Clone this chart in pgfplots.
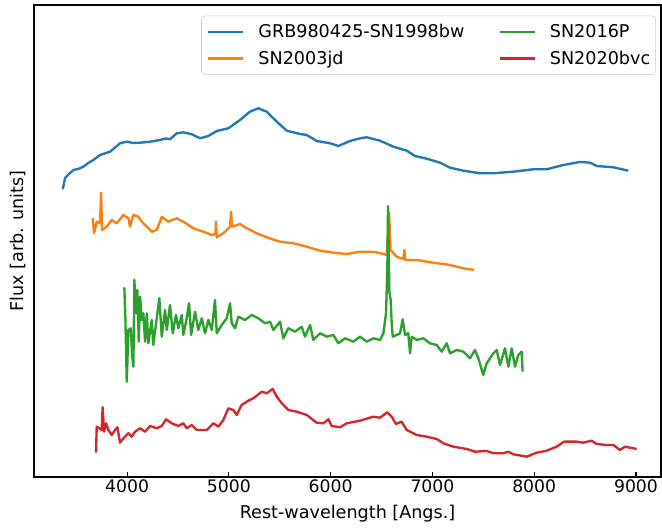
\documentclass[border=0pt]{standalone}
\usepackage{pgfplots}
\pgfplotsset{compat=1.18}
\usepackage{fontspec}
\setmainfont{DejaVu Sans}
\definecolor{c0}{HTML}{1F77B4}
\definecolor{c1}{HTML}{FF7F0E}
\definecolor{c2}{HTML}{2CA02C}
\definecolor{c3}{HTML}{D62728}
\begin{document}
\begin{tikzpicture}
\begin{axis}[
  scale only axis,
  width=451.4pt, height=339.8pt,
  xmin=3086, xmax=9246, ymin=47, ymax=519,
  axis line style={line width=0.8pt},
  ytick=\empty,
  xtick={4000,5000,6000,7000,8000,9000},
  xtick pos=lower,
  tick align=inside,
  major tick length=3.5pt,
  every tick/.style={black, line width=0.8pt},
  /pgf/number format/1000 sep={},
  /pgf/number format/assume math mode=true,
  ticklabel style={font=\fontsize{12.4}{14}\selectfont, inner sep=2pt},
  xlabel={Rest-wavelength [Angs.]},
  ylabel={Flux [arb. units]},
  label style={font=\fontsize{12.66}{15}\selectfont},
  xlabel style={at={(axis description cs:0.5,-0.0783)}, anchor=center},
  ylabel style={at={(axis description cs:-0.0255,0.5)}, anchor=center},
  legend columns=2,
  transpose legend,
  legend cell align=left,
  legend image code/.code={\draw[#1] (0pt,0pt) -- (25.3pt,0pt);},
  legend style={at={(axis description cs:1,1)}, anchor=north east, xshift=-3.6pt, yshift=-7.7pt,
    draw=black!20, rounded corners=2.5pt, fill=white, fill opacity=0.8, text opacity=1,
    font=\fontsize{12.66}{15.2}\selectfont, inner xsep=4pt, inner ysep=3.5pt,
    nodes={inner xsep=0pt, inner ysep=2.5pt},
    /tikz/every odd column/.append style={column sep=10pt},
    /tikz/every even column/.append style={column sep=24.5pt},
    row sep=3pt},
  every axis plot/.append style={line width=1.7pt, line join=round},
]
\addplot[c0] table {
3368 334.7
3391 346
3410 348
3440 351
3473 354
3520 355
3571 357.3
3620 361
3669 364
3735 369
3833 372.3
3931 380.7
3997 382.3
4060 381
4128 381.3
4226 382.3
4324 384
4380 385.5
4422 384.7
4488 390.7
4553 391.7
4636 389.7
4717 385.7
4799 388
4881 393
4995 395.7
5110 404
5208 412.3
5290 415.7
5372 412.3
5471 402.3
5569 393.3
5699 390
5765 389
5863 383
5994 380.7
6076 378
6191 383
6289 385.7
6355 386.7
6485 383.3
6616 377.3
6748 373.3
6829 368
6944 365.3
7075 361.3
7173 356.3
7304 353.3
7468 350.7
7598 350.7
7795 352.3
7991 354.7
8123 354.7
8286 359
8450 362
8548 361.3
8614 358
8777 356.7
8924 353.3
};
\addlegendentry{GRB980425-SN1998bw}
\addplot[c1] table {
3663 305.7
3676 290.7
3702 302.3
3735 300.7
3745 331.3
3754 294
3801 297.3
3850 304
3899 300.7
3964 309
4013 305.7
4029 297.3
4062 309
4111 307.3
4144 302.3
4194 297.3
4243 292.3
4292 294
4341 307.3
4406 302.3
4488 305.7
4553 302.3
4651 295.7
4750 292.3
4832 289
4868 290
4874 302.3
4881 286.7
4946 290.7
5012 297.3
5022 312.3
5031 297.3
5110 300
5176 295.7
5274 290.7
5372 286.7
5503 282.3
5634 280.7
5765 277.3
5896 273.3
6027 271.3
6158 270
6289 272.3
6420 272.3
6518 270
6550 269
6575 310.7
6589 274
6648 267.3
6715 265
6724 274
6735 264
6846 264
7009 261.3
7173 259
7304 255.7
7409 254
};
\addlegendentry{SN2003jd}
\addplot[c2] table {
3973 236.7
3983 207.3
3997 142.3
4013 194
4036 195.7
4049 170.7
4062 157.3
4072 244
4088 210.7
4101 234
4115 182.3
4128 227.3
4144 204
4160 210.7
4177 182.3
4194 210.7
4209 180.7
4243 204
4258 179
4285 200.7
4317 225.7
4341 187.3
4373 214
4390 194
4422 219
4449 190.7
4481 209
4504 195.7
4537 209
4553 189
4586 205.7
4609 220.7
4629 189
4668 212.3
4700 194
4734 205.7
4766 190.7
4799 204
4832 194
4864 224
4881 190.7
4930 199
4979 205.7
5012 220.7
5028 200.7
5061 195.7
5093 207.3
5159 204
5225 209
5290 205.7
5356 200.7
5405 202.3
5437 194
5503 202.3
5535 185.7
5584 195.7
5650 192.3
5716 197.3
5748 187.3
5798 199
5830 184
5896 190.7
5962 187.3
6027 189
6076 180.7
6141 185.7
6223 182.3
6289 187.3
6355 182.3
6420 185.7
6485 184
6518 190.7
6544 210.7
6557 254
6564 318
6577 232.3
6590 224
6600 200.7
6610 187.3
6649 189
6682 190.7
6708 204.7
6731 189
6763 190.7
6780 170.7
6797 187.3
6846 184
6911 185.7
6976 180.7
7042 179
7091 172.3
7140 180.7
7173 170.7
7239 174
7304 172.3
7369 165.7
7418 174
7451 165.7
7500 149
7533 160.7
7599 170.7
7632 174
7664 159
7713 175.7
7746 157.3
7779 175.7
7811 157.3
7844 169
7877 172.3
7886 152.3
};
\addlegendentry{SN2016P}
\addplot[c3] table {
3695 71.3
3702 97.3
3727 95.7
3751 94
3760 116.7
3774 92.3
3794 100.7
3816 94
3850 89
3882 94
3905 96.7
3931 81.3
3964 85.7
4013 90.7
4046 87.3
4079 92.3
4128 95.7
4177 92.3
4226 98
4292 95.7
4341 98
4383 104.7
4439 100.7
4504 98
4553 100.7
4586 95.7
4636 99
4685 94
4783 94
4848 100.7
4897 97.3
4946 104
4995 115.7
5044 114
5077 109
5126 119
5192 123.3
5241 125.7
5323 132.3
5372 130.7
5431 135
5471 127.3
5520 120.7
5584 114
5667 112.3
5765 109
5863 101.3
5929 100.7
5978 104.7
6011 98
6092 96.7
6158 100.7
6289 103.3
6420 107.3
6485 106.3
6557 111.7
6600 107.3
6642 100
6698 102.3
6747 94
6846 89
6944 87.3
7042 85
7107 80.7
7205 77.3
7337 75
7418 72.3
7533 73
7598 70.7
7696 70.7
7746 72.3
7795 69.7
7926 67.3
8024 71.3
8123 73.3
8221 77.3
8293 82.3
8417 82.3
8482 81.3
8565 83.3
8614 80
8711 79
8777 79
8843 74
8892 77.3
9007 75
};
\addlegendentry{SN2020bvc}
\end{axis}
\path ([xshift=-24.5pt,yshift=-33.8pt]current axis.south west) rectangle ([xshift=0.7pt,yshift=3.6pt]current axis.north east);
\end{tikzpicture}
\end{document}
